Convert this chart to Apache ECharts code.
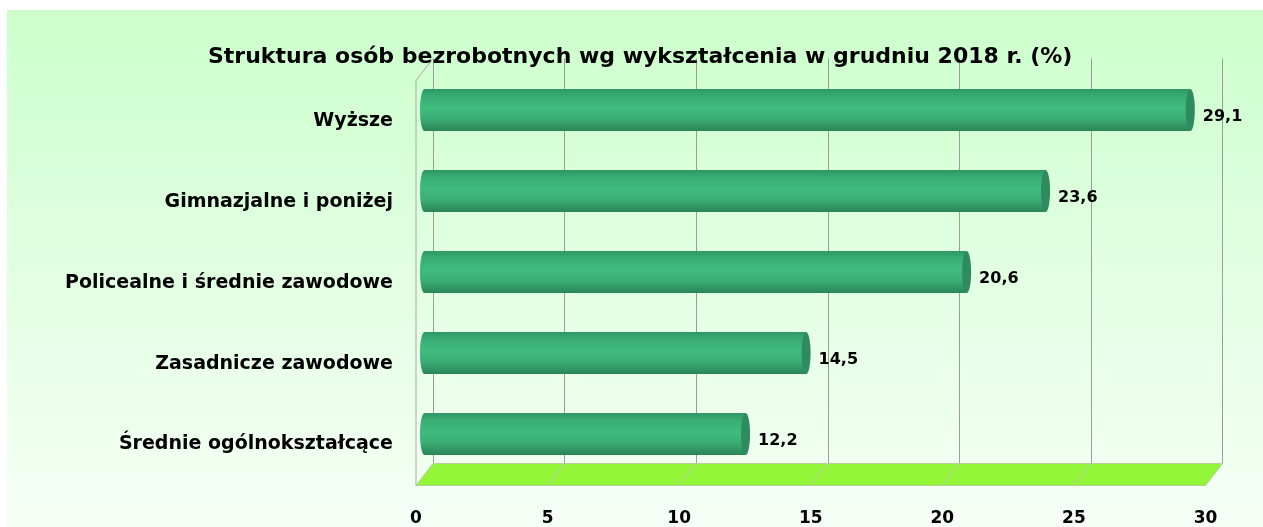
<!DOCTYPE html>
<html>
<head>
<meta charset="utf-8">
<script src="https://cdn.jsdelivr.net/npm/echarts@6/dist/echarts.min.js"></script>
<style>
  html, body { margin: 0; padding: 0; background: #fff; }
  #chart { width: 1263px; height: 527px; }
</style>
</head>
<body>
<div id="chart"></div>
<script>
var categories = ['Wyższe', 'Gimnazjalne i poniżej', 'Policealne i średnie zawodowe', 'Zasadnicze zawodowe', 'Średnie ogólnokształcące'];
var values = [29.1, 23.6, 20.6, 14.5, 12.2];
var floorTicks = [0, 5, 10, 15, 20, 25];
var axisMin = 0, axisMax = 30, axisStep = 5;

var chart = echarts.init(document.getElementById('chart'));

// half of the 3D depth offset (front -> middle -> back)
var DX = 8.5, DY = 11;
var FONT = 'DejaVu Sans';

var barGradient = new echarts.graphic.LinearGradient(0, 0, 0, 1, [
    { offset: 0, color: '#2f9765' },
    { offset: 0.18, color: '#39ad74' },
    { offset: 0.45, color: '#40bb7e' },
    { offset: 0.7, color: '#3aae75' },
    { offset: 1, color: '#2b8456' }
]);

function renderBar(params, api) {
    var v = api.value(0);
    var c = api.value(1);
    var start = api.coord([0, c]);
    var end = api.coord([v, c]);
    var h = api.size([0, 1])[1] * 0.52;
    var rx = 4.5;
    var yc = start[1];
    return {
        type: 'group',
        children: [
            { type: 'ellipse', shape: { cx: start[0], cy: yc, rx: rx, ry: h / 2 }, style: { fill: barGradient } },
            { type: 'rect', shape: { x: start[0], y: yc - h / 2, width: end[0] - start[0], height: h }, style: { fill: barGradient } },
            { type: 'ellipse', shape: { cx: end[0], cy: yc, rx: rx, ry: h / 2 }, style: { fill: '#2e8b5f' } },
            {
                type: 'text',
                style: {
                    x: end[0] + rx + 8, y: yc + 7,
                    text: v.toFixed(1).replace('.', ','),
                    fill: '#000', font: 'bold 16px "' + FONT + '"',
                    align: 'left', verticalAlign: 'middle'
                }
            }
        ]
    };
}

function renderFloor(params, api) {
    var v = api.value(0);
    var cs = params.coordSys;
    var yb = cs.y + cs.height;
    var xa = api.coord([v, 0])[0];
    var xb = api.coord([v + axisStep, 0])[0];
    var children = [{
        type: 'polygon',
        shape: { points: [[xa - DX, yb + DY], [xb - DX, yb + DY], [xb + DX, yb - DY], [xa + DX, yb - DY]] },
        style: { fill: '#93f537', stroke: '#b4cf98', lineWidth: 1 }
    }];
    if (params.dataIndex === 0) {
        // left wall edges
        children.push({
            type: 'polyline',
            shape: { points: [[xa - DX, yb + DY], [xa - DX, cs.y + DY], [xa + DX, cs.y - DY]] },
            style: { stroke: '#a8a8a8', lineWidth: 1, fill: null }
        });
    }
    return { type: 'group', children: children };
}

var option = {
    animation: false,
    graphic: [{
        type: 'rect', z: -10, silent: true,
        shape: { x: 7, y: 10, width: 1256, height: 517 },
        style: {
            fill: new echarts.graphic.LinearGradient(0, 0, 0, 1, [
                { offset: 0, color: '#ccffcc' },
                { offset: 1, color: '#f6fff6' }
            ])
        }
    }],
    title: {
        text: 'Struktura osób bezrobotnych wg wykształcenia w grudniu 2018 r. (%)',
        left: 203,
        top: 41,
        textStyle: { fontFamily: FONT, fontSize: 22, fontWeight: 'bold', color: '#000' }
    },
    grid: [
        { left: 416, right: 57.5, top: 80.5, bottom: 41.5 },   // front plane
        { left: 424.5, right: 49, top: 69.5, bottom: 52.5 },   // middle (bars)
        { left: 433, right: 40.5, top: 58.5, bottom: 63.5 }    // back wall
    ],
    xAxis: [
        {
            gridIndex: 0, type: 'value', min: axisMin, max: axisMax, interval: axisStep,
            axisLine: { show: false }, axisTick: { show: false }, splitLine: { show: false },
            axisLabel: { margin: 25, color: '#000', fontFamily: FONT, fontWeight: 'bold', fontSize: 17 }
        },
        {
            gridIndex: 1, type: 'value', min: axisMin, max: axisMax, interval: axisStep, show: false
        },
        {
            gridIndex: 2, type: 'value', min: axisMin, max: axisMax, interval: axisStep,
            axisLine: { show: false }, axisTick: { show: false }, axisLabel: { show: false },
            splitLine: { show: true, lineStyle: { color: '#9c9c9c', width: 1 } }
        }
    ],
    yAxis: [
        {
            gridIndex: 0, type: 'category', data: categories, inverse: true,
            axisLine: { show: false }, axisTick: { show: false },
            axisLabel: { margin: 23, color: '#000', fontFamily: FONT, fontWeight: 'bold', fontSize: 19 }
        },
        { gridIndex: 1, type: 'category', data: categories, inverse: true, show: false },
        { gridIndex: 2, type: 'category', data: categories, inverse: true, show: false }
    ],
    series: [
        {
            type: 'custom', name: 'floor', xAxisIndex: 1, yAxisIndex: 1, z: 1,
            renderItem: renderFloor,
            encode: { x: 0 },
            data: floorTicks.map(function (t) { return [t]; })
        },
        {
            type: 'custom', name: 'bars', xAxisIndex: 1, yAxisIndex: 1, z: 3,
            renderItem: renderBar,
            encode: { x: 0, y: 1 },
            data: values.map(function (v, i) { return [v, i]; })
        }
    ]
};

chart.setOption(option);
</script>
</body>
</html>
